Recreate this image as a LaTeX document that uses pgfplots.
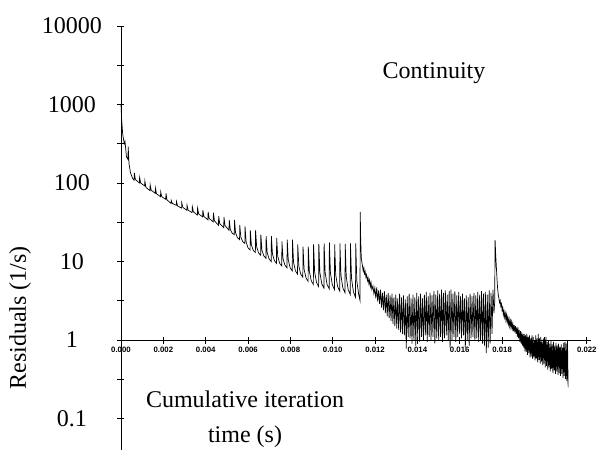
\documentclass[border=0pt]{standalone}
\usepackage{fontspec}
\setmainfont{Liberation Serif}
\setsansfont{Liberation Sans}
\usepackage{pgfplots}
\pgfplotsset{compat=1.18}

\newcommand{\ylab}[1]{\makebox[60bp][c]{#1}}

\begin{document}
\begin{tikzpicture}
\useasboundingbox (-121bp,0bp) rectangle (475bp,450bp);
\begin{axis}[
  at={(0bp,0bp)}, anchor=south west,
  scale only axis, width=470bp, height=424bp,
  xmin=0, xmax=0.0222, ymin=0.0398, ymax=10000,
  ymode=log,
  axis x line=middle, axis y line=left,
  axis line style={-, line width=0.8bp},
  hide obscured x ticks=false, hide obscured y ticks=false,
  tick style={black, line width=0.8bp},
  tick align=center, major tick length=7bp, minor tick length=7bp,
  xtick={0,0.002,0.004,0.006,0.008,0.010,0.012,0.014,0.016,0.018,0.020,0.022},
  xticklabels={0.000,0.002,0.004,0.006,0.008,0.010,0.012,0.014,0.016,0.018,0.020,0.022},
  scaled x ticks=false,
  ytick={0.1,1,10,100,1000,10000},
  yticklabels={\ylab{0.1},\ylab{1},\ylab{10},\ylab{100},\ylab{1000},\ylab{10000}},
  minor ytick={0.3162,3.162,31.62,316.2,3162},
  xticklabel style={font=\fontsize{7.8bp}{8bp}\selectfont\sffamily\bfseries},
  yticklabel style={font=\fontsize{24bp}{24bp}\selectfont, xshift=-12bp},
  clip=false,
]
% residual history
\addplot[black, line width=0.7bp, mark=none] coordinates {
(0,1000) (0.00003,650) (0.00008,420) (0.00014,335) (0.00017,315) (0.00019,335)
(0.00026,215) (0.00033,200) (0.00034,290) (0.00038,175) (0.00045,135) (0.00054,116)
(0.00062,108) (0.00063,135) (0.00068,111)
(0.000869,100) (0.000879,118) (0.000929,100)
(0.001118,92) (0.001128,106) (0.001178,88)
(0.001367,80) (0.001377,95) (0.001427,81)
(0.001616,74) (0.001626,86) (0.001676,73)
(0.001865,67) (0.001875,77) (0.001925,67)
(0.002114,62) (0.002124,74) (0.002174,61)
(0.002363,55) (0.002373,60) (0.002423,55)
(0.002612,52) (0.002622,58) (0.002672,51)
(0.002861,48) (0.002871,56) (0.002921,49)
(0.00311,45) (0.00312,52) (0.00317,45)
(0.003359,42) (0.003369,50) (0.003419,43)
(0.003608,39) (0.003618,48) (0.003668,40.5)
(0.003857,37) (0.003867,45) (0.003917,37.5)
(0.004106,34) (0.004116,43) (0.004166,35.5)
(0.004355,32) (0.004365,42) (0.004415,33)
(0.004604,29) (0.004614,38) (0.004664,30.4)
(0.004853,27) (0.004863,37) (0.004913,28.7)
(0.005102,25) (0.005112,34) (0.005162,25.6) (0.005252,23)
(0.005351,22) (0.005361,34) (0.005411,23.3) (0.005501,20.1)
(0.0056,19) (0.00561,29) (0.00566,20.5) (0.00575,17.9)
(0.005849,17) (0.005859,28) (0.005909,17.8) (0.005999,15)
(0.006098,14) (0.006108,25) (0.006158,16.3) (0.006248,13.9)
(0.006347,13) (0.006357,25) (0.006407,15.5) (0.006497,12.9)
(0.006596,12) (0.006606,22) (0.006656,14) (0.006746,11.8)
(0.006845,11) (0.006855,21) (0.006905,13) (0.006995,10.8)
(0.007094,10) (0.007104,21) (0.007154,12.5) (0.007244,10.3)
(0.007343,9.5) (0.007353,20) (0.007403,11.7) (0.007493,9.5)
(0.007592,8.8) (0.007602,18) (0.007652,10.9) (0.007742,9.0)
(0.007841,8.3) (0.007851,19) (0.007901,10.5) (0.007991,8.3)
(0.00809,7.6) (0.0081,19) (0.00815,9.8) (0.00824,7.6)
(0.008339,6.9) (0.008349,16.5) (0.008399,8.8) (0.008489,6.9)
(0.008588,6.3) (0.008598,15.5) (0.008648,8.0) (0.008738,6.2)
(0.008837,5.6) (0.008847,15.5) (0.008897,7.5) (0.008987,5.7)
(0.009086,5.1) (0.009096,16.5) (0.009146,7.4) (0.009236,5.4)
(0.009335,4.8) (0.009345,16.8) (0.009395,7.2) (0.009485,5.2)
(0.009584,4.6) (0.009594,17) (0.009644,7.2) (0.009734,5.1)
(0.009833,4.5) (0.009843,17.5) (0.009893,7.1) (0.009983,5.05)
(0.010082,4.4) (0.010092,16.5) (0.010142,6.8) (0.010232,4.8)
(0.010331,4.2) (0.010341,17) (0.010391,6.6) (0.010481,4.6)
(0.01058,4.0) (0.01059,16.8) (0.01064,6.4) (0.01073,4.4)
(0.010829,3.8) (0.010839,17) (0.010889,6.1) (0.010979,4.1)
(0.011078,3.5) (0.011088,17) (0.011138,5.7) (0.011228,3.8)
(0.01129,3.2) (0.0113,43) (0.01132,20) (0.01135,11)
(0.0114,9.0) (0.01144,7.6) (0.01147,8.3) (0.0115,7.0) (0.01153,7.5) (0.01157,6.3)
(0.0116,6.8) (0.01164,5.7) (0.01167,6.2) (0.01171,5.2) (0.01174,5.8) (0.01178,4.8)
(0.01181,5.4) (0.01185,4.4)
(0.01190,4.9) (0.011945,3.9) (0.01199,4.6) (0.012035,3.4) (0.01208,4.7) (0.012125,3.1)
(0.01217,4.3) (0.012215,2.9) (0.01226,4.4) (0.012305,2.6) (0.01235,4.0) (0.012395,2.4)
(0.01244,4.2) (0.012485,2.2) (0.01253,3.8) (0.012575,2.0) (0.01262,4.0) (0.012665,1.9)
(0.01271,3.7) (0.012755,1.75) (0.01280,3.9) (0.012845,1.6) (0.01289,3.5) (0.012935,1.5)
(0.01298,3.8) (0.013025,1.4) (0.01307,3.4) (0.013115,1.35) (0.01316,3.9) (0.013205,1.25)
(0.01325,3.5) (0.013295,1.2) (0.01334,3.7) (0.013385,1.15) (0.01343,3.3) (0.013475,0.78)
(0.01352,3.6) (0.013565,1.1) (0.01361,3.9) (0.013655,1.05) (0.01370,3.4) (0.013745,0.9)
(0.01379,3.8) (0.013835,1.0) (0.01388,3.5) (0.013925,0.85) (0.01397,4.0) (0.014015,1.05)
(0.01406,3.6) (0.014105,0.95) (0.01415,3.9) (0.014195,1.1) (0.01424,3.4) (0.014285,1.0)
(0.01433,3.8) (0.014375,1.15) (0.01442,4.1) (0.014465,0.95) (0.01451,3.6) (0.014555,1.1)
(0.01460,4.0) (0.014645,1.0) (0.01469,3.7) (0.014735,1.1) (0.01478,4.2) (0.014825,0.9)
(0.01487,3.8) (0.014915,1.05) (0.01496,4.3) (0.015005,1.0) (0.01505,3.9) (0.015095,1.1)
(0.01514,4.4) (0.015185,0.95) (0.01523,4.0) (0.015275,1.05) (0.01532,4.3) (0.015365,1.15)
(0.01541,3.8) (0.015455,1.0) (0.01550,4.2) (0.015545,0.8) (0.01559,4.4) (0.015635,1.0)
(0.01568,3.9) (0.015725,1.1) (0.01577,4.2) (0.015815,0.95) (0.01586,3.7) (0.015905,1.1)
(0.01595,4.1) (0.015995,1.2) (0.01604,3.6) (0.016085,1.05) (0.01613,3.9) (0.016175,1.15)
(0.01622,3.4) (0.016265,0.8) (0.01631,3.7) (0.016355,1.0) (0.01640,3.5) (0.016445,0.85)
(0.01649,3.9) (0.016535,1.05) (0.01658,3.6) (0.016625,1.1) (0.01667,4.0) (0.016715,1.0)
(0.01676,3.7) (0.016805,1.05) (0.01685,4.1) (0.016895,0.95) (0.01694,3.8) (0.016985,1.0)
(0.01703,4.2) (0.017075,0.9) (0.01712,3.9) (0.017165,0.85) (0.01721,4.1) (0.017255,0.68)
(0.01730,3.8) (0.017345,0.8) (0.01739,4.3) (0.017435,0.9) (0.01748,4.0) (0.017525,1.2)
(0.01757,4.4) (0.017615,2.2) (0.01765,3.0)
(0.01767,18.8) (0.01770,12) (0.01773,8.5) (0.01776,6.0) (0.01779,4.5) (0.01782,3.8)
(0.01785,3.4) (0.01788,3.0) (0.01791,3.2) (0.01794,2.7) (0.01797,2.9) (0.01800,2.4)
(0.01803,2.6) (0.01806,2.1) (0.01809,2.35) (0.01812,1.95) (0.01815,2.2) (0.01818,1.8)
(0.01821,2.1) (0.01824,1.7) (0.01827,1.95) (0.01830,1.6) (0.01833,1.85) (0.01836,1.5)
(0.01839,1.75) (0.01842,1.45) (0.01845,1.7) (0.01848,1.4) (0.01851,1.6) (0.01854,1.3)
(0.01857,1.55) (0.01860,1.25) (0.01863,1.5) (0.01866,1.2) (0.01869,1.45) (0.01872,1.1)
(0.01875,1.45) (0.01878,1.05) (0.01881,1.35) (0.01884,0.95) (0.01887,1.3) (0.01890,0.9)
(0.01893,1.25) (0.01896,0.85) (0.01899,1.2) (0.01902,0.8) (0.01905,1.2) (0.01908,0.72)
(0.01911,1.15) (0.01914,0.7) (0.01917,1.2) (0.01920,0.65) (0.01923,1.1) (0.01926,0.68)
(0.01929,1.15) (0.01932,0.6) (0.01935,1.05) (0.01938,0.62) (0.01941,1.15) (0.01944,0.58)
(0.01947,1.1) (0.01950,0.6) (0.01953,1.0) (0.01956,0.55) (0.01959,1.15) (0.01962,0.58)
(0.01965,1.05) (0.01968,0.52) (0.01971,1.2) (0.01974,0.56) (0.01977,1.05) (0.01980,0.5)
(0.01983,1.1) (0.01986,0.53) (0.01989,0.95) (0.01992,0.48) (0.01995,1.05) (0.01998,0.5)
(0.02001,1.0) (0.02004,0.45) (0.02007,1.1) (0.02010,0.47) (0.02013,0.95) (0.02016,0.42)
(0.02019,1.0) (0.02022,0.45) (0.02025,0.9) (0.02028,0.4) (0.02031,1.0) (0.02034,0.43)
(0.02037,0.88) (0.02040,0.38) (0.02043,0.95) (0.02046,0.41) (0.02049,0.85) (0.02052,0.37)
(0.02055,0.92) (0.02058,0.4) (0.02061,0.85) (0.02064,0.36) (0.02067,0.9) (0.02070,0.38)
(0.02073,0.82) (0.02076,0.35) (0.02079,0.88) (0.02082,0.37) (0.02085,0.8) (0.02088,0.33)
(0.02091,0.92) (0.02094,0.35) (0.02097,0.95) (0.02100,0.32) (0.02103,0.9) (0.02106,0.3)
(0.02109,1.0) (0.02112,0.25)
};
\end{axis}
\node[rotate=90, font=\fontsize{24bp}{24bp}\selectfont] at (-101bp,132bp) {Residuals (1/s)};
\node[font=\fontsize{24bp}{24bp}\selectfont] at (313bp,377bp) {Continuity};
\node[anchor=base, font=\fontsize{24bp}{24bp}\selectfont] at (124bp,42bp) {Cumulative iteration};
\node[anchor=base, font=\fontsize{24bp}{24bp}\selectfont] at (124bp,8bp) {time (s)};
\end{tikzpicture}
\end{document}
